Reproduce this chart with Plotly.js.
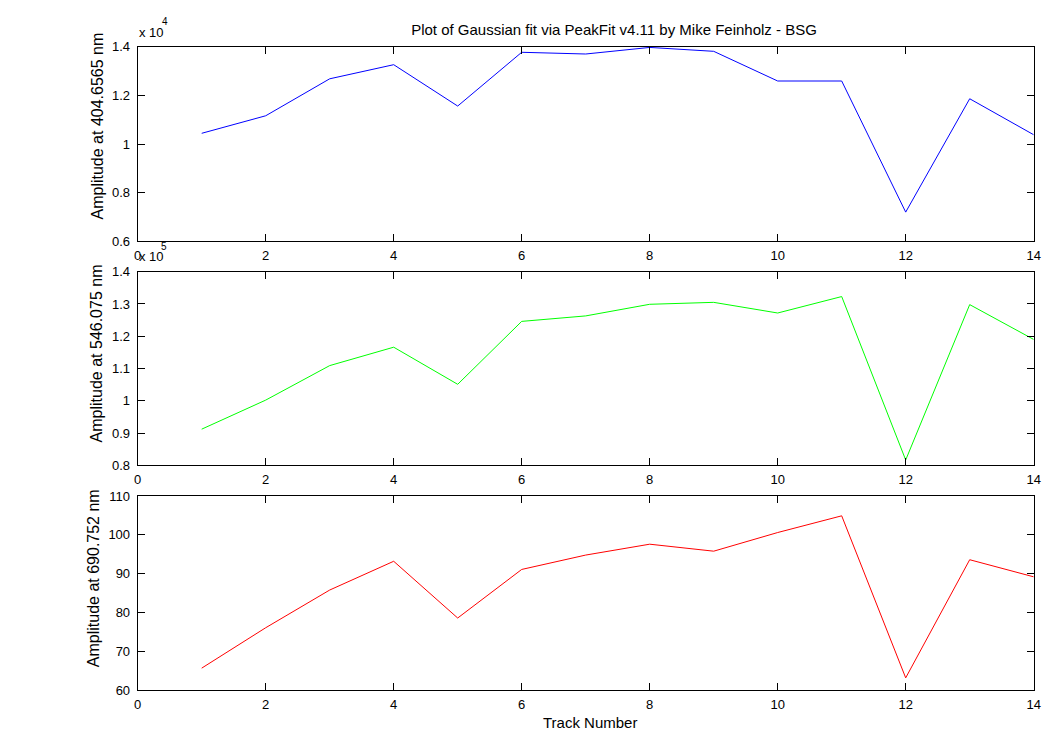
<!DOCTYPE html>
<html>
<head>
<meta charset="utf-8">
<script src="https://cdn.plot.ly/plotly-3.0.1.min.js"></script>
<style>html,body{margin:0;padding:0;background:#fff;}#chart{width:1050px;height:750px;}</style>
</head>
<body>
<div id="chart"></div>
<script>
const trackNumbers = [1,2,3,4,5,6,7,8,9,10,11,12,13,14];
const amp404 = [10440,11160,12680,13260,11560,13770,13700,13970,13810,12590,12590,7200,11860,10380];
const amp546 = [91200,100200,110900,116600,105100,124600,126300,129900,130500,127200,132300,81650,129800,119000];
const amp690 = [65.7,76.1,85.8,93.2,78.6,91.1,94.8,97.6,95.8,100.6,104.9,63.2,93.6,89.2];

const xTicks = [0,2,4,6,8,10,12,14];
const y1TickVals = [6000,8000,10000,12000,14000];
const y1TickText = ["0.6","0.8","1","1.2","1.4"];
const y2TickVals = [80000,90000,100000,110000,120000,130000,140000];
const y2TickText = ["0.8","0.9","1","1.1","1.2","1.3","1.4"];
const y3TickVals = [60,70,80,90,100,110];

const titleText = "Plot of Gaussian fit via PeakFit v4.11 by Mike Feinholz - BSG";
const yTitles = ["Amplitude at 404.6565 nm","Amplitude at 546.075 nm","Amplitude at 690.752 nm"];
const xTitle = "Track Number";

const W = 1050, H = 750;
const px = v => v / W;
const py = v => 1 - v / H;
const FONT = "Liberation Sans, Arial, Helvetica, sans-serif";

const traces = [
  {x: trackNumbers, y: amp404, type: 'scatter', mode: 'lines', line: {color: '#0000ff', width: 1}, xaxis: 'x', yaxis: 'y'},
  {x: trackNumbers, y: amp546, type: 'scatter', mode: 'lines', line: {color: '#00ff00', width: 1}, xaxis: 'x2', yaxis: 'y2'},
  {x: trackNumbers, y: amp690, type: 'scatter', mode: 'lines', line: {color: '#ff0000', width: 1}, xaxis: 'x3', yaxis: 'y3'}
];

const axBase = {
  showline: true, linecolor: '#000', linewidth: 1, mirror: 'ticks',
  ticks: 'inside', ticklen: 7, tickcolor: '#000', tickwidth: 1,
  showgrid: false, zeroline: false, fixedrange: true,
  tickfont: {family: FONT, size: 13, color: '#000'}
};
const xDomain = [px(137.7), px(1033.7)];
function xa(anchor) {
  return Object.assign({}, axBase, {domain: xDomain, range: [0,14], tickmode: 'array', tickvals: xTicks, anchor: anchor, ticklabelstandoff: 2});
}
function ya(anchor, top, bottom, range, vals, text) {
  const o = Object.assign({}, axBase, {domain: [py(bottom), py(top)], range: range, tickmode: 'array', tickvals: vals, anchor: anchor, ticklabelstandoff: 4});
  if (text) o.ticktext = text;
  return o;
}

const layout = {
  width: W, height: H, autosize: false,
  margin: {l: 0, r: 0, t: 0, b: 0},
  paper_bgcolor: '#fff', plot_bgcolor: '#fff',
  showlegend: false,
  font: {family: FONT, size: 13, color: '#000'},
  title: {text: titleText, x: px(614), y: py(30), xanchor: 'center', yanchor: 'middle', xref: 'paper', yref: 'paper', font: {family: FONT, size: 15, color: '#000'}},
  xaxis: xa('y'),
  yaxis: ya('x', 46.7, 241.3, [6000,14000], y1TickVals, y1TickText),
  xaxis2: xa('y2'),
  yaxis2: ya('x2', 271.7, 465.3, [80000,140000], y2TickVals, y2TickText),
  xaxis3: xa('y3'),
  yaxis3: ya('x3', 496, 690.3, [60,110], y3TickVals, null),
  annotations: [
    {text: yTitles[0], xref: 'paper', yref: 'paper', x: px(96.5), y: py(126), textangle: -90, showarrow: false, xanchor: 'center', yanchor: 'middle', font: {family: FONT, size: 16}},
    {text: yTitles[1], xref: 'paper', yref: 'paper', x: px(96.4), y: py(353), textangle: -90, showarrow: false, xanchor: 'center', yanchor: 'middle', font: {family: FONT, size: 16}},
    {text: yTitles[2], xref: 'paper', yref: 'paper', x: px(93.2), y: py(578), textangle: -90, showarrow: false, xanchor: 'center', yanchor: 'middle', font: {family: FONT, size: 16}},
    {text: xTitle, xref: 'paper', yref: 'paper', x: px(590), y: py(722), showarrow: false, xanchor: 'center', yanchor: 'middle', font: {family: FONT, size: 15}},
    {text: "x 10", xref: 'paper', yref: 'paper', x: px(137), y: py(32.3), showarrow: false, xanchor: 'left', yanchor: 'middle', font: {family: FONT, size: 13}},
    {text: "4", xref: 'paper', yref: 'paper', x: px(165), y: py(21.7), showarrow: false, xanchor: 'center', yanchor: 'middle', font: {family: FONT, size: 10}},
    {text: "x 10", xref: 'paper', yref: 'paper', x: px(137), y: py(256.7), showarrow: false, xanchor: 'left', yanchor: 'middle', font: {family: FONT, size: 13}},
    {text: "5", xref: 'paper', yref: 'paper', x: px(164.3), y: py(246.7), showarrow: false, xanchor: 'center', yanchor: 'middle', font: {family: FONT, size: 10}}
  ]
};

Plotly.newPlot('chart', traces, layout, {displayModeBar: false, staticPlot: true});
</script>
</body>
</html>
